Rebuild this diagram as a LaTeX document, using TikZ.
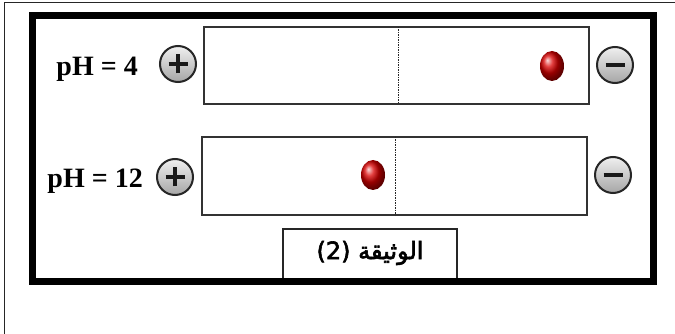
\documentclass[tikz,border=0pt]{standalone}
\usepackage{fontspec}
\setmainfont{Liberation Serif}
\newfontfamily\arabicfont[Script=Arabic,FakeBold=2.5]{DejaVu Sans}
\TeXXeTstate=1
\usetikzlibrary{shapes.geometric}
\begin{document}
\begin{tikzpicture}[x=1pt,y=-1pt,
  electrode/.style={circle,minimum size=36pt,inner sep=0pt,draw=black!85,line width=2pt,top color=gray!12,bottom color=gray!70},
  strip/.style={rectangle,draw=black!80,line width=1.4pt,inner sep=0pt},
  dropball/.style={ellipse,minimum width=24pt,minimum height=30pt,inner sep=0pt,ball color=red!85!black},
  phlabel/.style={font=\fontsize{28}{32}\selectfont\bfseries,inner sep=0pt,anchor=base east},
  divider/.style={draw=black!85,line width=1pt,dash pattern=on 1.5pt off 1pt},
  sign/.style={draw=black!90,line cap=butt}]
\useasboundingbox (0,0) rectangle (675,334);
\fill[white] (0,0) rectangle (675,334);
% thin outer frame
\coordinate (tr) at (675,2.7);
\coordinate (tl) at (4.7,2.7);
\coordinate (bl) at (4.7,334);
\draw[line width=1.3pt,black!85] (tr) -- (tl) -- (bl);
% caption
\node[draw=black!85,line width=1.4pt,minimum width=174pt,minimum height=52pt,inner sep=0pt] (cap) at (370,255) {};
\node[inner sep=0pt,font=\arabicfont\fontsize{24}{28}\selectfont] (captext) at (370,253) {(2) \beginR الوثيقة\endR};
% thick frame
\draw[line width=7pt] (32,16) rectangle (653.5,281);
% strips
\node[strip,minimum width=385pt,minimum height=77pt] (s1) at (396.5,65.5) {};
\node[strip,minimum width=385pt,minimum height=78pt] (s2) at (394.5,176) {};
\coordinate (d1t) at (398,27); \coordinate (d1b) at (398,104);
\coordinate (d2t) at (395,137); \coordinate (d2b) at (395,215);
\draw[divider] (d1t) -- (d1b);
\draw[divider] (d2t) -- (d2b);
% drops
\node[dropball] (b1) at (552,66) {};
\node[dropball] (b2) at (373,175) {};
% electrodes
\node[electrode] (p1) at (178,64) {};
\node[electrode] (p2) at (175,177) {};
\node[electrode] (m1) at (615,65) {};
\node[electrode] (m2) at (613,175) {};
\draw[sign,line width=3.2pt] ([xshift=-9.5pt]p1.center) -- ([xshift=9.5pt]p1.center);
\draw[sign,line width=3.2pt] ([yshift=-9.5pt]p1.center) -- ([yshift=9.5pt]p1.center);
\draw[sign,line width=3.2pt] ([xshift=-9.5pt]p2.center) -- ([xshift=9.5pt]p2.center);
\draw[sign,line width=3.2pt] ([yshift=-9.5pt]p2.center) -- ([yshift=9.5pt]p2.center);
\draw[sign,line width=4.5pt] ([xshift=-9.5pt]m1.center) -- ([xshift=9.5pt]m1.center);
\draw[sign,line width=4.5pt] ([xshift=-9.5pt]m2.center) -- ([xshift=9.5pt]m2.center);
% labels
\node[phlabel] (l1) at (138,76) {pH = 4};
\node[phlabel] (l2) at (143,187) {pH = 12};
\end{tikzpicture}
\end{document}
